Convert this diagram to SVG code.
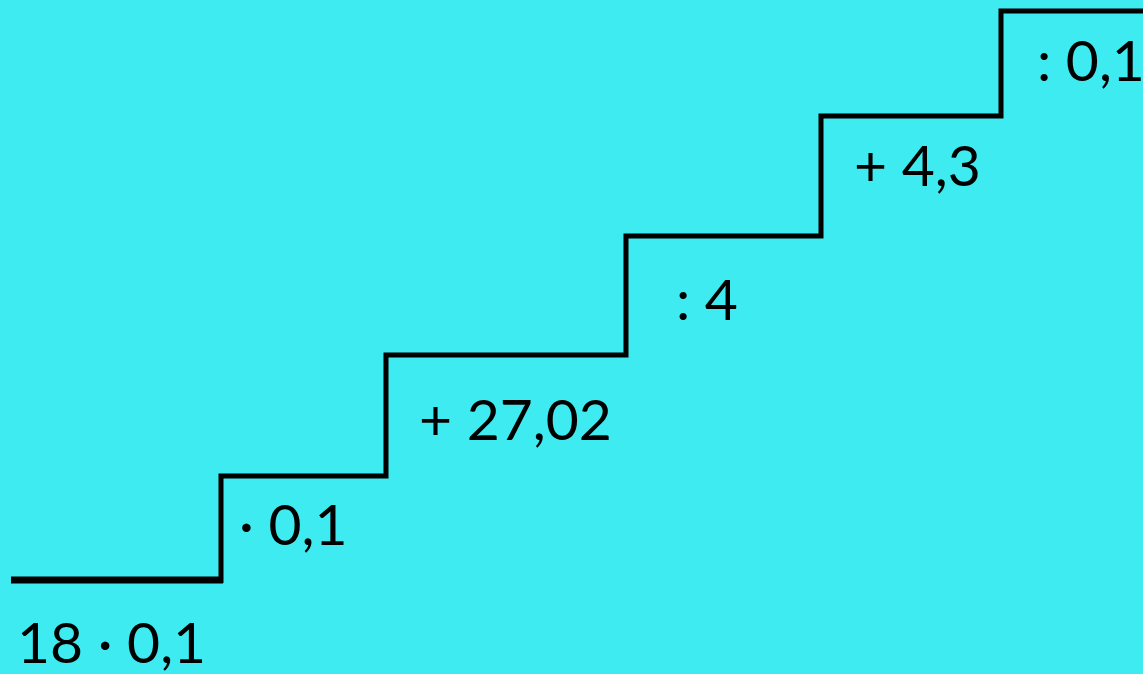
<svg xmlns="http://www.w3.org/2000/svg" width="1143" height="674" viewBox="0 0 1143 674">
<style>
.lbl{font-family:Lato,"Open Sans","Liberation Sans",sans-serif;font-size:57px;fill:#000}
.st{fill:none;stroke:#000;stroke-width:5;stroke-linejoin:miter}
</style>
<rect x="0" y="0" width="1143" height="674" fill="#3DEBF0"/>
<g id="stairs">
<line x1="11" y1="580" x2="223" y2="580" stroke="#000" stroke-width="7"/>
<polyline class="st" points="221,583 221,476 386,476 386,355 626,355 626,236 821,236 821,116 1001,116 1001,11 1143,11"/>
</g>
<g id="labels">
<text class="lbl" x="17" y="663">18 · 0,1</text>
<text class="lbl" x="239" y="545">· 0,1</text>
<text class="lbl" x="419" y="440">+ 27,02</text>
<text class="lbl" x="676" y="320">: 4</text>
<text class="lbl" x="854" y="186">+ 4,3</text>
<text class="lbl" x="1037" y="81">: 0,1</text>
</g>
</svg>
